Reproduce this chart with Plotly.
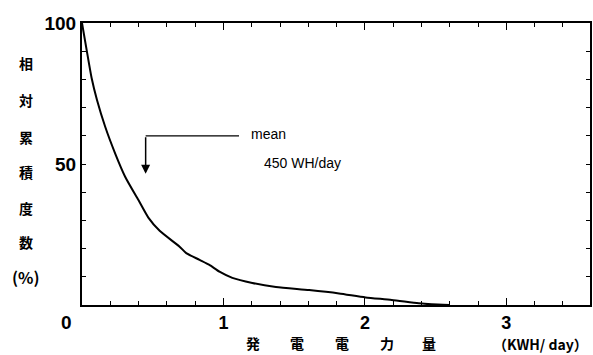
import plotly.graph_objects as go

# cumulative relative frequency of daily generated energy
energy_kwh = [0.0, 0.033, 0.068, 0.106, 0.164, 0.234, 0.305, 0.399, 0.469, 0.549,
              0.690, 0.737, 0.831, 0.901, 0.972, 1.063, 1.204, 1.371, 1.606, 1.817,
              2.005, 2.190, 2.380, 2.472, 2.600]
cum_pct = [100.0, 90.4, 80.5, 72.7, 63.2, 53.8, 45.5, 37.2, 31.0, 26.3,
           20.7, 18.4, 16.0, 14.2, 11.8, 9.6, 7.8, 6.4, 5.3, 4.1,
           2.7, 1.8, 0.6, 0.25, 0.0]

mean_kwh = 0.45
x_tick_vals = [1, 2, 3]
y_tick_vals = [50, 100]
y_title_chars = ["相", "対", "累", "積", "度", "数", "(%)"]
x_title_chars = ["発", "電", "電", "力", "量"]
x_unit = "（KWH/ day）"

JP = "Noto Sans CJK JP"
SANS = "Liberation Sans"

fig = go.Figure()
fig.add_trace(go.Scatter(
    x=energy_kwh, y=cum_pct, mode="lines",
    line=dict(color="black", width=2, shape="spline", smoothing=0.6),
    hoverinfo="skip", showlegend=False,
))

# mean marker: bracket from label down to the curve
fig.add_shape(type="line", xref="x", yref="y",
              x0=mean_kwh, x1=mean_kwh + 0.66, y0=60, y1=60,
              line=dict(color="black", width=1.2))
fig.add_annotation(x=mean_kwh, y=46.5, ax=mean_kwh, ay=60,
                   xref="x", yref="y", axref="x", ayref="y",
                   text="", showarrow=True, arrowhead=2, arrowsize=1.2,
                   arrowwidth=1.5, arrowcolor="black")
fig.add_annotation(x=mean_kwh + 0.73, y=60.5, xref="x", yref="y",
                   text="mean", showarrow=False, xanchor="left",
                   yanchor="middle",
                   font=dict(family=SANS, size=14, color="black"))
fig.add_annotation(x=mean_kwh + 0.82, y=50.4, xref="x", yref="y",
                   text=f"{int(mean_kwh * 1000)} WH/day", showarrow=False,
                   xanchor="left", yanchor="middle",
                   font=dict(family=SANS, size=14, color="black"))

# origin label
fig.add_annotation(x=0, y=0, xref="x", yref="y", text="0", showarrow=False,
                   xanchor="center", yanchor="middle",
                   xshift=-16, yshift=-17,
                   font=dict(family=SANS, size=19, color="black",
                             weight="bold"))

# vertical y-axis title, one character per line
y_pos = [63, 100, 137, 172, 208, 242, 277]
for ch, py in zip(y_title_chars, y_pos):
    size = 16 if ch == "(%)" else 14
    fig.add_annotation(x=26, y=py, xref="paper", yref="paper", text=ch,
                       showarrow=False, xanchor="center", yanchor="middle",
                       font=dict(family=JP, size=size, color="black",
                                 weight="bold"))

# spaced x-axis title
x_pos = [254, 298, 343, 388, 430]
for ch, px in zip(x_title_chars, x_pos):
    fig.add_annotation(x=px, y=343, xref="paper", yref="paper", text=ch,
                       showarrow=False, xanchor="center", yanchor="middle",
                       font=dict(family=JP, size=14, color="black",
                                 weight="bold"))
fig.add_annotation(x=542, y=344, xref="paper", yref="paper", text=x_unit,
                   showarrow=False, xanchor="center", yanchor="middle",
                   font=dict(family=JP, size=14, color="black",
                             weight="bold"))

# convert pixel-placed title annotations into paper coordinates
L, R, T, B = 82, 592, 23, 305
for a in fig.layout.annotations:
    if a.xref == "paper":
        a.x = (a.x - L) / (R - L)
        a.y = (B - a.y) / (B - T)

fig.update_xaxes(
    range=[0, (R - L) / 142.0], tickvals=x_tick_vals,
    ticks="inside", ticklen=7, tickwidth=1.2, tickcolor="black",
    minor=dict(dtick=0.2, ticks="inside", ticklen=4, tickwidth=1,
               tickcolor="black", showgrid=False),
    showline=True, linecolor="black", linewidth=2, mirror="ticks",
    showgrid=False, zeroline=False,
    tickfont=dict(family=SANS, size=18, color="black", weight="bold"),
)
fig.update_yaxes(
    range=[0, 100], tickvals=y_tick_vals,
    ticks="inside", ticklen=4, tickwidth=1.2, tickcolor="black",
    minor=dict(dtick=10, ticks="inside", ticklen=4, tickwidth=1,
               tickcolor="black", showgrid=False),
    showline=True, linecolor="black", linewidth=2, mirror="ticks",
    showgrid=False, zeroline=False,
    tickfont=dict(family=SANS, size=19, color="black", weight="bold"),
)

fig.update_layout(
    width=593, height=355,
    margin=dict(l=L, r=593 - R, t=T, b=355 - B),
    paper_bgcolor="white", plot_bgcolor="white",
    showlegend=False,
)

fig.write_html("out.html")
